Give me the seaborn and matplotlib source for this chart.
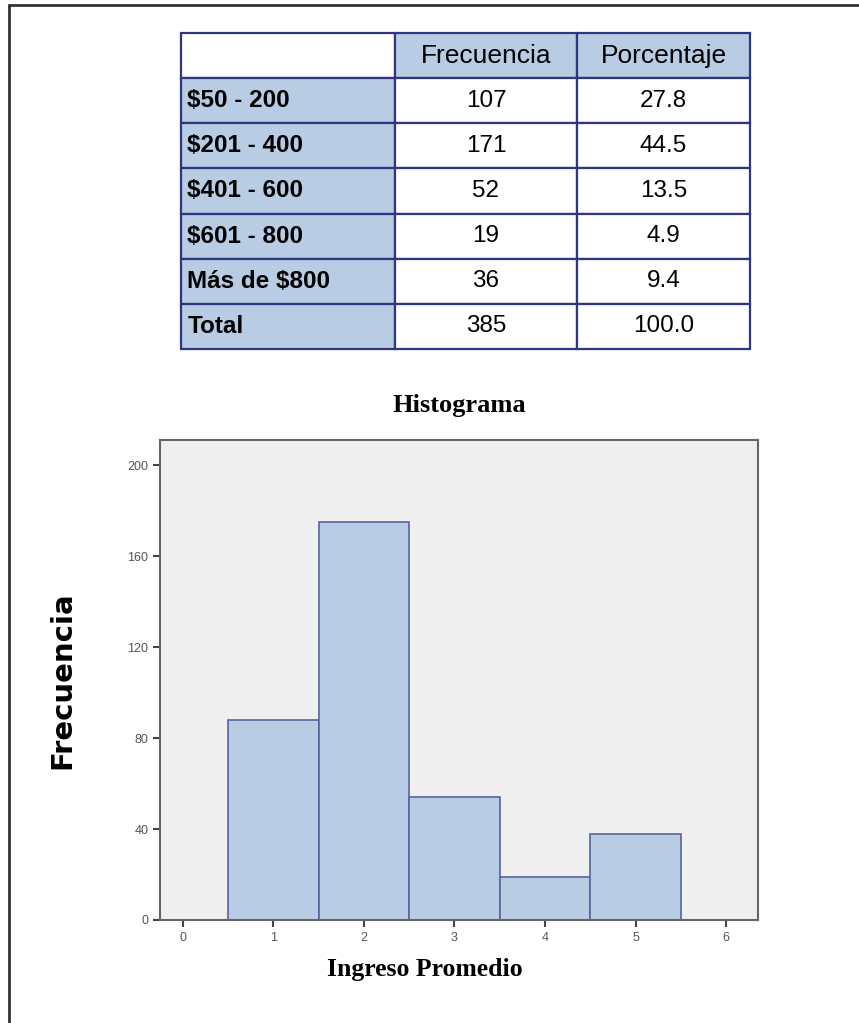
import numpy as np
import seaborn as sns
import matplotlib.pyplot as plt
from matplotlib.lines import Line2D

# table data
rangos = ["$50 - 200", "$201 - 400", "$401 - 600", "$601 - 800", "Más de $800", "Total"]
frecuencia = ["107", "171", "52", "19", "36", "385"]
porcentaje = ["27.8", "44.5", "13.5", "4.9", "9.4", "100.0"]
encabezado = ["", "Frecuencia", "Porcentaje"]

# histogram data
ingreso = [1, 2, 3, 4, 5]
frec_hist = [88, 175, 54, 19, 38]

sns.set_theme(style="white")
plt.rcParams['font.family'] = ['Liberation Sans', 'DejaVu Sans']
plt.rcParams['text.color'] = 'black'
plt.rcParams['axes.labelcolor'] = 'black'

fig = plt.figure(figsize=(8.59, 10.23), dpi=100)

# outer frame (only left and top visible)
fig.add_artist(Line2D([9/859, 9/859], [0, 1 - 5/1023], transform=fig.transFigure, color="#333333", lw=2))
fig.add_artist(Line2D([9/859, 1], [1 - 5/1023, 1 - 5/1023], transform=fig.transFigure, color="#333333", lw=2))

# ---- table ----
tax = fig.add_axes([181/859, 1 - 349/1023, 569/859, 316/1023])
tax.axis("off")
celdas = [encabezado] + [[r, f, p] for r, f, p in zip(rangos, frecuencia, porcentaje)]
tabla = tax.table(cellText=celdas, bbox=[0, 0, 1, 1], colWidths=[0.376, 0.320, 0.304], cellLoc="center")
tabla.auto_set_font_size(False)
azul = "#B8CCE4"
borde = "#2F3580"
for (r, c), cell in tabla.get_celld().items():
    cell.set_edgecolor(borde)
    cell.set_linewidth(1.6)
    txt = cell.get_text()
    txt.set_fontsize(17.5)
    txt.set_color("black")
    if r == 0:
        cell.set_facecolor("white" if c == 0 else azul)
        txt.set_fontsize(19)
        txt.set_fontweight("medium")
    elif c == 0:
        cell.set_facecolor(azul)
        txt.set_fontweight("bold")
        txt.set_ha("left")
        cell._loc = "left"
        cell.PAD = 0.03
    else:
        cell.set_facecolor("white")

# ---- histogram ----
ax = fig.add_axes([160/859, 1 - 920/1023, 598/859, 480/1023])
ax.set_facecolor("#EFEFEF")
sns.histplot(x=ingreso, weights=frec_hist, discrete=True, ax=ax,
             color="#B8CCE4", edgecolor="#5A63A0", linewidth=1.2, alpha=1)
ax.set_xlim(-0.25, 6.35)
ax.set_ylim(0, 211)
ax.set_xticks(range(0, 7))
ax.set_yticks([0, 40, 80, 120, 160, 200])
ax.tick_params(axis="both", which="both", direction="out", length=5, width=1.5,
               color="#444444", labelsize=9, labelcolor="#555555", bottom=True, left=True)
for s in ax.spines.values():
    s.set_color("#666666")
    s.set_linewidth(1.5)

ax.set_title("Histograma", family="Liberation Serif", fontweight="bold", fontsize=19, pad=20)
ax.set_xlabel("Ingreso Promedio", family="Liberation Serif", fontweight="bold", fontsize=18.5, x=0.443)
ax.set_ylabel("Frecuencia", family="DejaVu Sans", fontweight="heavy", fontsize=21)
ax.yaxis.set_label_coords(-0.14, 0.5)
ax.xaxis.labelpad = 10

fig.savefig("out.png", dpi=100)
